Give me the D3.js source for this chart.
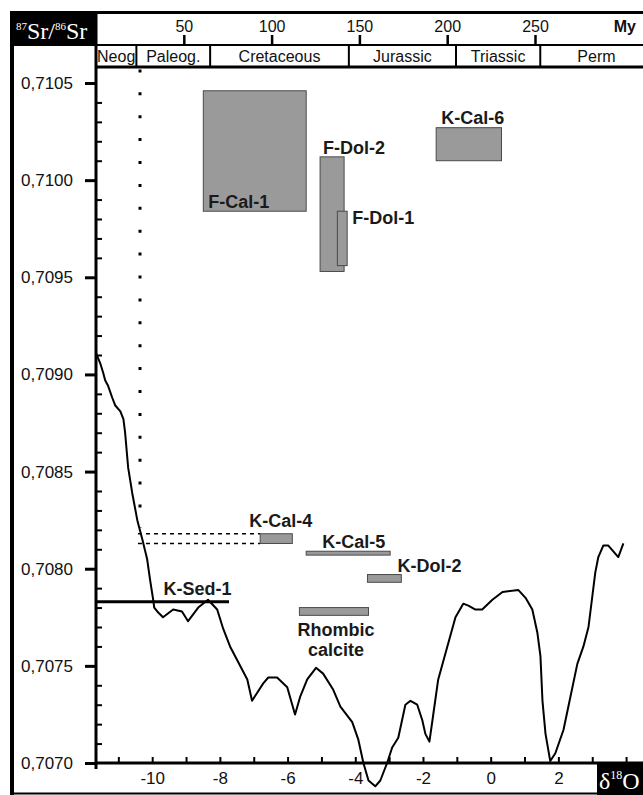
<!DOCTYPE html>
<html>
<head>
<meta charset="utf-8">
<script src="https://cdn.jsdelivr.net/npm/d3@7"></script>
<style>
  body { margin: 0; background: #fff; }
  svg { display: block; }
</style>
</head>
<body>
<script>
// Seawater 87Sr/86Sr reference curve plotted against δ18O
const curveX = [-11.66,-11.54,-11.45,-11.39,-11.30,-11.18,-11.09,-10.94,-10.85,-10.80,
  -10.71,-10.59,-10.44,-10.29,-10.15,-10.06,-9.97,-9.94,-9.85,-9.68,
  -9.38,-9.12,-8.94,-8.64,-8.35,-8.08,-7.90,-7.70,-7.46,-7.19,
  -7.05,-6.72,-6.57,-6.31,-6.01,-5.78,-5.63,-5.42,-5.16,-4.95,
  -4.66,-4.44,-4.09,-3.91,-3.76,-3.61,-3.41,-3.26,-3.06,-2.91,
  -2.73,-2.52,-2.37,-2.17,-2.02,-1.93,-1.81,-1.72,-1.55,-1.28,
  -1.04,-0.81,-0.66,-0.45,-0.25,0.05,0.35,0.82,1.03,1.23,
  1.38,1.47,1.53,1.62,1.76,1.91,2.15,2.56,2.74,2.89,
  3.09,3.18,3.33,3.47,3.77,3.92];
const curveSr = [0.70911,0.70906,0.70901,0.70897,0.70894,0.70888,0.70884,0.70881,0.70877,0.70870,
  0.70852,0.70839,0.70825,0.70815,0.70805,0.70794,0.70784,0.70780,0.70778,0.70775,
  0.70779,0.70778,0.70773,0.70780,0.70784,0.70779,0.70769,0.70760,0.70752,0.70743,
  0.70732,0.70741,0.70744,0.70744,0.70739,0.70725,0.70734,0.70743,0.70749,0.70746,
  0.70738,0.70729,0.70721,0.70712,0.70700,0.70691,0.70688,0.70691,0.70700,0.70708,
  0.70713,0.70730,0.70732,0.70730,0.70722,0.70715,0.70711,0.70722,0.70743,0.70760,
  0.70775,0.70782,0.70781,0.70779,0.70779,0.70784,0.70788,0.70789,0.70785,0.70779,
  0.70767,0.70755,0.70732,0.70715,0.70701,0.70705,0.70717,0.70751,0.70760,0.70770,
  0.70798,0.70806,0.70812,0.70812,0.70806,0.70813];

// Sample fields: δ18O range (x) and 87Sr/86Sr range (y)
const sampleNames = ["F-Cal-1","F-Dol-2","F-Dol-1","K-Cal-6","K-Cal-4","K-Cal-5","K-Dol-2","Rhombic calcite"];
const sampleO18Min = [-8.49,-5.04,-4.53,-1.61,-6.81,-5.45,-3.64,-5.65];
const sampleO18Max = [-5.45,-4.33,-4.24, 0.32,-5.86,-2.97,-2.64,-3.61];
const sampleSrMin  = [0.70984,0.70953,0.70956,0.71010,0.70813,0.70807,0.70793,0.70776];
const sampleSrMax  = [0.71046,0.71012,0.70984,0.71027,0.70818,0.70809,0.70797,0.70780];

// Host sediment ratio (K-Sed-1), drawn as a horizontal line
const sedName = "K-Sed-1";
const sedSr = 0.70783;
const sedO18Max = -7.73;

// Neogene/Paleogene marker (dotted) and its link to K-Cal-4 (dashed)
const markerO18 = -10.36;
const markerSrTop = 0.71057;
const markerSrBottom = 0.70821;
const dashStartO18 = -10.42;

// Axis ticks
const srMajorTicks = [0.7070,0.7075,0.7080,0.7085,0.7090,0.7095,0.7100,0.7105];
const o18Ticks = [-11,-10,-9,-8,-7,-6,-5,-4,-3,-2,-1,0,1,2,3,4];
const o18Labels = [-10,-8,-6,-4,-2,0,2];

// Geological time header
const ageTicks = [50,100,150,200,250];
const periodNames = ["Neog","Paleog.","Cretaceous","Jurassic","Triassic","Perm"];
const periodStart = [0,23,65,144,205,253];
const periodEnd   = [23,65,144,205,253,317];

const W = 643, H = 795;
const SANS = "'Liberation Sans', Arial, Helvetica, sans-serif";
const SERIF = "'Liberation Serif', 'Times New Roman', serif";

const svg = d3.select("body").append("svg")
  .attr("width", W).attr("height", H)
  .attr("font-family", SANS);

const x = d3.scaleLinear().domain([-11.66, 4.5]).range([96, 643]);
const y = d3.scaleLinear().domain([0.7070, 0.7105]).range([763, 83]);
const age = d3.scaleLinear().domain([0, 250]).range([96, 535]);

// ---- frame ----
svg.append("rect").attr("x", 10).attr("y", 11).attr("width", 86).attr("height", 35).attr("fill", "#000");
svg.append("line").attr("x1", 10).attr("x2", W).attr("y1", 12.5).attr("y2", 12.5)
  .attr("stroke", "#000").attr("stroke-width", 3);
svg.append("line").attr("x1", 12).attr("x2", 12).attr("y1", 11).attr("y2", H)
  .attr("stroke", "#000").attr("stroke-width", 4);
svg.append("line").attr("x1", 10).attr("x2", W).attr("y1", 793.5).attr("y2", 793.5)
  .attr("stroke", "#000").attr("stroke-width", 2);

// Sr label in the corner block
const srLab = svg.append("text").attr("x", 16).attr("y", 39)
  .attr("font-family", SERIF).attr("fill", "#fff").attr("font-size", 24);
srLab.append("tspan").attr("font-size", 11).attr("dy", -9).text("87");
srLab.append("tspan").attr("dy", 9).text("Sr/");
srLab.append("tspan").attr("font-size", 11).attr("dy", -9).text("86");
srLab.append("tspan").attr("dy", 9).text("Sr");

// ---- age header ----
svg.append("line").attr("x1", 96).attr("x2", W).attr("y1", 45).attr("y2", 45)
  .attr("stroke", "#000").attr("stroke-width", 2);
svg.append("line").attr("x1", 96).attr("x2", W).attr("y1", 67).attr("y2", 67)
  .attr("stroke", "#000").attr("stroke-width", 3);

const ageAxis = svg.append("g").attr("transform", "translate(0,45)")
  .call(d3.axisTop(age).tickValues(ageTicks).tickSize(10).tickPadding(3).tickFormat(d3.format("d")));
ageAxis.select(".domain").remove();
ageAxis.selectAll(".tick line").attr("stroke-width", 2.5);
ageAxis.selectAll(".tick text").attr("font-size", 16).attr("font-family", SANS).attr("fill", "#111");

svg.append("text").attr("x", 636).attr("y", 32).attr("text-anchor", "end")
  .attr("font-size", 16).attr("font-weight", "bold").attr("fill", "#111").text("My");

const periods = svg.append("g");
periodNames.forEach((name, i) => {
  const x0 = age(periodStart[i]), x1 = age(periodEnd[i]);
  periods.append("line").attr("x1", x0).attr("x2", x0).attr("y1", 45).attr("y2", 67)
    .attr("stroke", "#000").attr("stroke-width", 2);
  periods.append("text").attr("x", (x0 + x1) / 2).attr("y", 62)
    .attr("text-anchor", "middle").attr("font-size", 16).attr("fill", "#111").text(name);
});

// ---- Sr axis ----
svg.append("line").attr("x1", 96).attr("x2", 96).attr("y1", 11).attr("y2", 769)
  .attr("stroke", "#000").attr("stroke-width", 3);

const yAxis = svg.append("g").attr("transform", "translate(96,0)")
  .call(d3.axisLeft(y).tickValues(srMajorTicks).tickSize(11).tickPadding(12)
    .tickFormat(d => d3.format(".4f")(d).replace(".", ",")));
yAxis.select(".domain").remove();
yAxis.selectAll(".tick line").attr("stroke-width", 3);
yAxis.selectAll(".tick text").attr("font-size", 17).attr("font-family", SANS).attr("fill", "#111");

const srMinorTicks = d3.range(70701, 71058).map(v => v / 100000)
  .filter(v => Math.round(v * 100000) % 10 === 0 && Math.round(v * 100000) % 50 !== 0);
const yMinor = svg.append("g").attr("transform", "translate(96,0)")
  .call(d3.axisRight(y).tickValues(srMinorTicks).tickSize(6).tickFormat(""));
yMinor.select(".domain").remove();
yMinor.selectAll(".tick line").attr("stroke-width", 2);

// ---- δ18O axis ----
svg.append("line").attr("x1", 96).attr("x2", W).attr("y1", 763).attr("y2", 763)
  .attr("stroke", "#000").attr("stroke-width", 3);
const xTicks = svg.append("g").attr("transform", "translate(0,763)")
  .call(d3.axisTop(x).tickValues(o18Ticks).tickSize(6).tickFormat(""));
xTicks.select(".domain").remove();
xTicks.selectAll(".tick line").attr("stroke-width", 2);

const xLabels = svg.append("g").attr("transform", "translate(0,763)")
  .call(d3.axisBottom(x).tickValues(o18Labels).tickSize(0).tickPadding(9)
    .tickFormat(d => String(d)));
xLabels.select(".domain").remove();
xLabels.selectAll(".tick text").attr("font-size", 17).attr("font-family", SANS).attr("fill", "#111");

svg.append("rect").attr("x", 597).attr("y", 762).attr("width", W - 597).attr("height", H - 762).attr("fill", "#000");
const oLab = svg.append("text").attr("x", 599).attr("y", 789)
  .attr("font-family", SERIF).attr("fill", "#fff").attr("font-size", 24);
oLab.append("tspan").text("δ");
oLab.append("tspan").attr("font-size", 12).attr("dy", -10).text("18");
oLab.append("tspan").attr("dy", 10).text("O");

// ---- marker lines ----
svg.append("line")
  .attr("x1", x(markerO18)).attr("x2", x(markerO18))
  .attr("y1", y(markerSrTop)).attr("y2", y(markerSrBottom))
  .attr("stroke", "#000").attr("stroke-width", 3).attr("stroke-dasharray", "3 19.9");

const kCal4 = sampleNames.indexOf("K-Cal-4");
[sampleSrMax[kCal4], sampleSrMin[kCal4]].forEach(v => {
  svg.append("line")
    .attr("x1", x(dashStartO18)).attr("x2", x(sampleO18Min[kCal4]))
    .attr("y1", y(v)).attr("y2", y(v))
    .attr("stroke", "#000").attr("stroke-width", 1.5).attr("stroke-dasharray", "4 4");
});

// ---- sample fields ----
const boxes = svg.append("g");
sampleNames.forEach((name, i) => {
  boxes.append("rect")
    .attr("x", x(sampleO18Min[i]))
    .attr("y", y(sampleSrMax[i]))
    .attr("width", x(sampleO18Max[i]) - x(sampleO18Min[i]))
    .attr("height", y(sampleSrMin[i]) - y(sampleSrMax[i]))
    .attr("fill", "#9a9a9a").attr("stroke", "#4a4a4a").attr("stroke-width", 1);
});

// label placement relative to each field
const labelPlace = {
  "F-Cal-1": b => ({ x: b.x0 + 5, y: b.yb - 3, anchor: "start" }),
  "F-Dol-2": b => ({ x: b.x0 + 3, y: b.yt - 3, anchor: "start" }),
  "F-Dol-1": b => ({ x: b.x1 + 5, y: b.yt + 13, anchor: "start" }),
  "K-Cal-6": b => ({ x: b.x0 + 5, y: b.yt - 4, anchor: "start" }),
  "K-Cal-4": b => ({ x: b.x0 - 11, y: b.yt - 7, anchor: "start" }),
  "K-Cal-5": b => ({ x: b.x0 + 16, y: b.yt - 3, anchor: "start" }),
  "K-Dol-2": b => ({ x: b.x0 + 30, y: b.yt - 3, anchor: "start" }),
  "Rhombic calcite": b => ({ x: (b.x0 + b.x1) / 2 + 2, y: b.yb + 21, anchor: "middle" })
};
sampleNames.forEach((name, i) => {
  const b = { x0: x(sampleO18Min[i]), x1: x(sampleO18Max[i]), yt: y(sampleSrMax[i]), yb: y(sampleSrMin[i]) };
  const p = labelPlace[name](b);
  const t = svg.append("text").attr("x", p.x).attr("y", p.y).attr("text-anchor", p.anchor)
    .attr("font-size", 18).attr("font-weight", "bold").attr("fill", "#1a1a1a");
  name.split(" ").forEach((w, k) => {
    t.append("tspan").attr("x", p.x).attr("dy", k === 0 ? 0 : 20).text(w);
  });
});

// ---- host sediment line ----
svg.append("line").attr("x1", x.range()[0]).attr("x2", x(sedO18Max))
  .attr("y1", y(sedSr)).attr("y2", y(sedSr))
  .attr("stroke", "#000").attr("stroke-width", 3);
svg.append("text").attr("x", (x.range()[0] + x(sedO18Max)) / 2 + 35).attr("y", y(sedSr) - 7)
  .attr("text-anchor", "middle").attr("font-size", 18).attr("font-weight", "bold")
  .attr("fill", "#1a1a1a").text(sedName);

// ---- Sr curve ----
const pts = curveX.map((v, i) => [v, curveSr[i]]);
svg.append("path").datum(pts)
  .attr("fill", "none").attr("stroke", "#000").attr("stroke-width", 2)
  .attr("stroke-linejoin", "round")
  .attr("d", d3.line().x(d => x(d[0])).y(d => y(d[1])));
</script>
</body>
</html>
